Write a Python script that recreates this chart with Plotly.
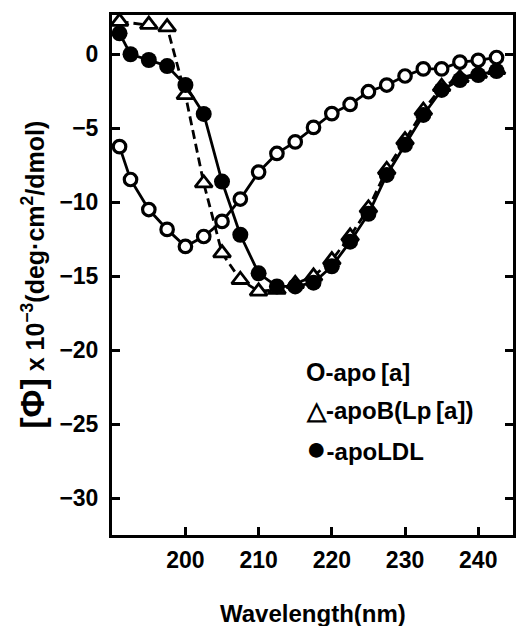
import plotly.graph_objects as go

# ---- data ----
wl_apoa = [191, 192.5, 195, 197.5, 200, 202.5, 205, 207.5, 210, 212.5, 215, 217.5,
           220, 222.5, 225, 227.5, 230, 232.5, 235, 237.5, 240, 242.5]
phi_apoa = [-6.24, -8.46, -10.49, -11.83, -12.98, -12.31, -11.29, -9.78, -7.96, -6.70,
            -5.92, -4.94, -4.01, -3.39, -2.53, -2.08, -1.47, -0.99, -0.99, -0.53, -0.41, -0.22]

wl_apob = [191, 195, 197.5, 200, 202.5, 205, 207.5, 210, 212.5, 215, 217.5, 220,
           222.5, 225, 227.5, 230, 232.5, 235, 237.5, 240, 242.5]
phi_apob = [2.2, 2.0, 1.83, -2.75, -8.71, -13.43, -15.23, -16.01, -15.9, -15.5, -15.0,
            -13.9, -12.3, -10.4, -7.8, -5.8, -3.8, -2.2, -1.6, -1.3, -1.05]

wl_ldl = [191, 192.5, 195, 197.5, 200, 202.5, 205, 207.5, 210, 212.5, 215, 217.5,
          220, 222.5, 225, 227.5, 230, 232.5, 235, 237.5, 240, 242.5]
phi_ldl = [1.41, 0.0, -0.39, -0.80, -2.08, -4.03, -8.60, -12.19, -14.80, -15.68, -15.68,
           -15.43, -14.32, -12.66, -10.78, -8.15, -6.12, -4.10, -2.41, -1.74, -1.40, -1.13]

x_ticks = [200, 210, 220, 230, 240]
y_ticks = [0, -5, -10, -15, -20, -25, -30]
y_ticklabels = ["0", "\u22125", "\u221210", "\u221215", "\u221220", "\u221225", "\u221230"]

legend_symbols = ["O", "\u25B3", "\u25CF"]
legend_symbol_sizes = [25, 25, 34]
legend_labels = ["-apo\u2009[a]", "-apoB(Lp\u2009[a])", "-apoLDL"]

FONT = "Liberation Sans, Arial, sans-serif"

fig = go.Figure()
fig.add_trace(go.Scatter(
    x=wl_apob, y=phi_apob, mode="lines+markers", name="apoB(Lp[a])",
    line=dict(color="black", width=2.8, dash="9px,5px"),
    marker=dict(symbol="triangle-up", size=15, color="white",
                line=dict(color="black", width=2.8)),
    cliponaxis=False))
fig.add_trace(go.Scatter(
    x=wl_ldl, y=phi_ldl, mode="lines+markers", name="apoLDL",
    line=dict(color="black", width=2.8),
    marker=dict(symbol="circle", size=16, color="black",
                line=dict(color="black", width=0)),
    cliponaxis=False))
fig.add_trace(go.Scatter(
    x=wl_apoa, y=phi_apoa, mode="lines+markers", name="apo[a]",
    line=dict(color="black", width=2.8),
    marker=dict(symbol="circle", size=12.5, color="white",
                line=dict(color="black", width=3.2)),
    cliponaxis=False))

# legend as text annotations
for i, (sym, ssz, lab) in enumerate(zip(legend_symbols, legend_symbol_sizes, legend_labels)):
    fig.add_annotation(
        x=0.48, y=0.313 - i * 0.073, xref="paper", yref="paper",
        xanchor="left", yanchor="middle", showarrow=False,
        text=f"<span style='font-size:{ssz}px'>{sym}</span>{lab}",
        font=dict(family=FONT, size=24, color="black", weight="bold"))

# axis titles
fig.add_annotation(
    x=0.5, y=-0.15, xref="paper", yref="paper", xanchor="center", yanchor="middle",
    showarrow=False, text="Wavelength(nm)",
    font=dict(family=FONT, size=24, color="black", weight="bold"))
fig.add_annotation(
    x=-0.2, y=0.5, xref="paper", yref="paper", xanchor="center", yanchor="middle",
    showarrow=False, textangle=-90,
    text="<span style='font-size:34px'>[\u03A6]</span> x 10<sup>\u22123</sup>(deg\u00B7cm<sup>2</sup>/dmol)",
    font=dict(family=FONT, size=25, color="black", weight="bold"))

fig.update_layout(
    width=518, height=626,
    margin=dict(l=112, r=2, t=15, b=91),
    paper_bgcolor="white", plot_bgcolor="white",
    showlegend=False,
    xaxis=dict(range=[189.97, 244.75], tickvals=x_ticks, ticks="inside",
               ticklen=8, tickwidth=2.5, tickcolor="black",
               showline=True, linecolor="black", linewidth=3, mirror=True,
               showgrid=False, zeroline=False, ticklabelstandoff=2,
               tickfont=dict(family=FONT, size=23, color="black", weight="bold")),
    yaxis=dict(range=[-32.47, 2.65], tickvals=y_ticks, ticktext=y_ticklabels,
               ticks="inside", ticklen=8, tickwidth=2.5, tickcolor="black",
               showline=True, linecolor="black", linewidth=3, mirror="ticks",
               showgrid=False, zeroline=False, ticklabelstandoff=6,
               tickfont=dict(family=FONT, size=23, color="black", weight="bold")),
)

fig.write_html("out.html", config={"displayModeBar": False},
               post_script="document.body.style.margin='0px';")
